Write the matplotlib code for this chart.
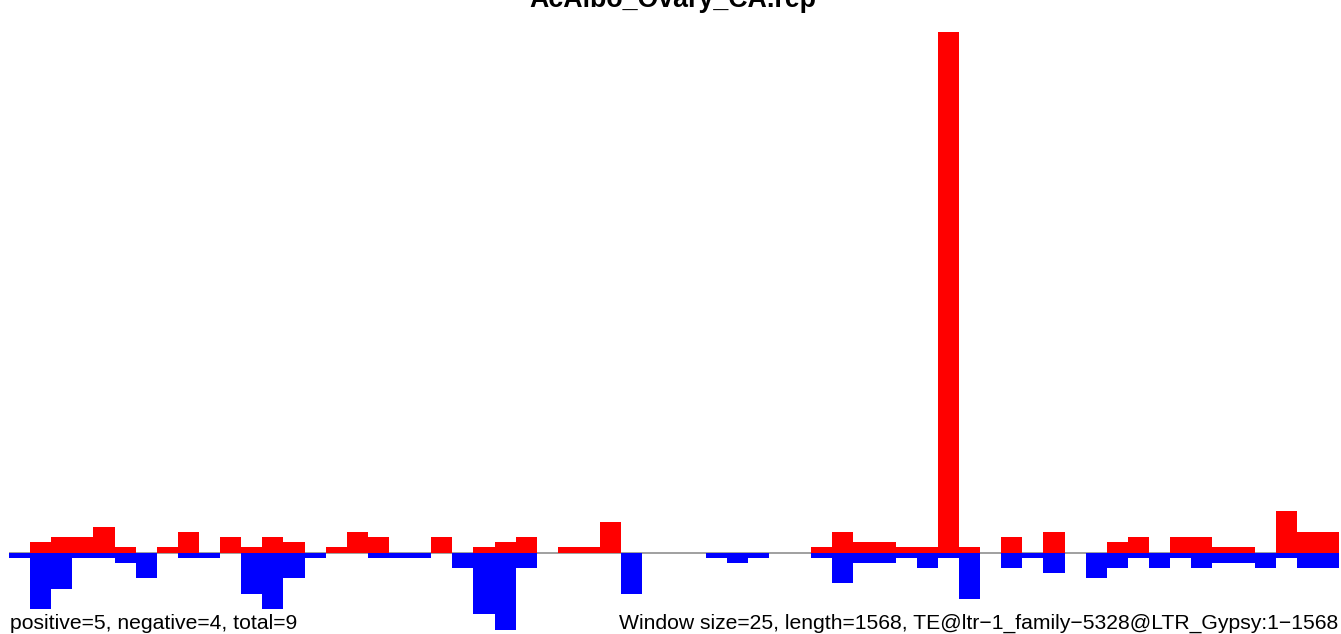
import numpy as np
import matplotlib
matplotlib.use("Agg")
import matplotlib.pyplot as plt

plt.rcParams['font.family'] = ['Liberation Sans', 'DejaVu Sans']

# counts per 25 bp window (63 windows over 1568 bp)
positive = [0, 2, 3, 3, 5, 1, 0, 1, 4, 0,
            3, 1, 3, 2, 0, 1, 4, 3, 0, 0,
            3, 0, 1, 2, 3, 0, 1, 1, 6, 0,
            0, 0, 0, 0, 0, 0, 0, 0, 1, 4,
            2, 2, 1, 1, 101, 1, 0, 3, 0, 4,
            0, 0, 2, 3, 0, 3, 3, 1, 1, 0,
            8, 4, 4]
negative = [1, 11, 7, 1, 1, 2, 5, 0, 1, 1,
            0, 8, 11, 5, 1, 0, 0, 1, 1, 1,
            0, 3, 12, 15, 3, 0, 0, 0, 0, 8,
            0, 0, 0, 1, 2, 1, 0, 0, 1, 6,
            2, 2, 1, 3, 1, 9, 0, 3, 1, 4,
            0, 5, 3, 1, 3, 1, 3, 2, 2, 3,
            1, 3, 3]

title = "AcAlbo_Ovary_CA.rep"
left_note = "positive=5, negative=4, total=9"
right_note = "Window size=25, length=1568, TE@ltr\u22121_family\u22125328@LTR_Gypsy:1\u22121568"

W, H = 1341, 634
fig = plt.figure(figsize=(W / 100, H / 100), dpi=100)

# pixel layout of the plotting region
x0, x1 = 9, 1339
top_px, base_px = 32, 552.5
unit = (base_px - top_px) / max(positive)
low = (H - base_px) / unit

ax = fig.add_axes([x0 / W, 0, (x1 - x0) / W, (H - top_px) / H])
x = np.arange(len(positive))
ax.axhline(0, color='#999999', lw=1.3, zorder=1)
ax.bar(x, positive, width=1, align='edge', color='#FF0000', lw=0, zorder=2)
ax.bar(x, -np.array(negative), width=1, align='edge', color='#0000FF', lw=0, zorder=3)
ax.set_xlim(0, len(positive))
ax.set_ylim(-low, max(positive))
ax.axis('off')

# title sits partly above the top edge, as in the original
fig.text(673 / W, 1 - 7 / H, title, ha='center', va='baseline',
         fontsize=19.3, fontweight='bold')
fig.text(10 / W, 1 - 629 / H, left_note, ha='left', va='baseline', fontsize=15.2)
fig.text(1338 / W, 1 - 629 / H, right_note, ha='right', va='baseline', fontsize=15.2)

fig.savefig("out.png", dpi=100)
